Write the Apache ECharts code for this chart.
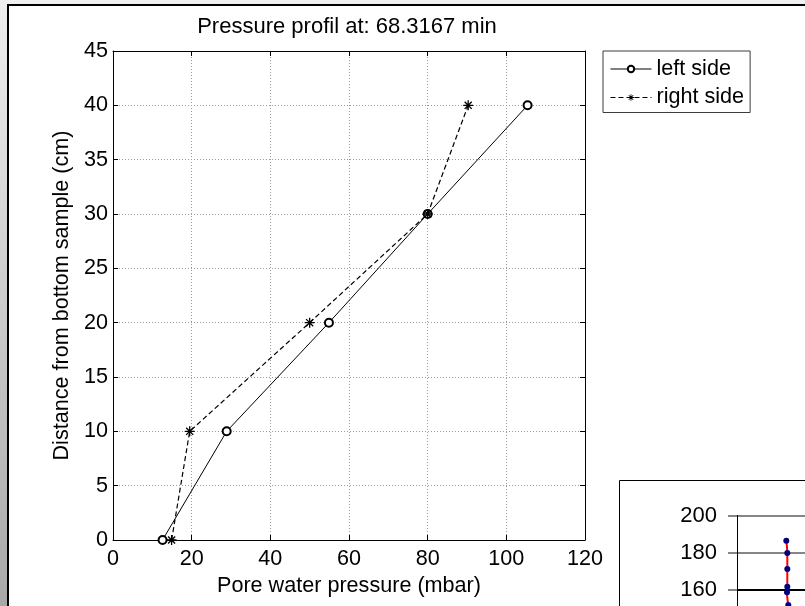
<!DOCTYPE html>
<html><head><meta charset="utf-8">
<script src="https://cdn.jsdelivr.net/npm/echarts@6/dist/echarts.min.js"></script>
<style>html,body{margin:0;padding:0;background:#fff}#c{width:805px;height:606px}</style>
</head><body><div id="c"></div>
<script>
const titleText = 'Pressure profil at: 68.3167 min';
const xName = 'Pore water pressure (mbar)';
const yName = 'Distance from bottom sample (cm)';
const seriesNames = ['left side', 'right side'];
const distance = [0, 10, 20, 30, 40];
const leftPressure = [12.6, 28.9, 54.9, 80, 105.4];
const rightPressure = [14.9, 19.5, 50, 80, 90.3];
const xRange = [0, 120, 20];
const yRange = [0, 45, 5];
// partially visible inset chart (bottom right)
const insetX = [49.3, 50.3, 50.3, 50.3, 50, 51.3];
const insetY = [186.4, 179.7, 171.1, 161.5, 158.5, 151.6];
const insetRange = [100, 200, 20];

const FF = "'Liberation Sans', Arial, sans-serif";
const FS = 21.6;
const starPath = 'path://M-0.65,-5L0.65,-5L0.65,5L-0.65,5Z M-5,-0.65L5,-0.65L5,0.65L-5,0.65Z M-3.05,-4L4,3.05L3.05,4L-4,-3.05Z M4,-3.05L-3.05,4L-4,3.05L3.05,-4Z';

const chart = echarts.init(document.getElementById('c'), null, {renderer: 'canvas'});
const tickStyle = {show: true, inside: true, length: 5, lineStyle: {color: '#000', width: 1}};
const lineBlack = {show: true, onZero: false, lineStyle: {color: '#000', width: 1}};
const gridDots = {show: true, lineStyle: {type: [1, 2], color: '#9a9a9a', width: 1}};

chart.setOption({
  animation: false,
  backgroundColor: '#fff',
  title: {
    text: titleText, left: 347, top: 16, padding: 0, textAlign: 'center',
    textStyle: {fontFamily: FF, fontSize: 22, fontWeight: 'normal', color: '#000'}
  },
  legend: {
    orient: 'vertical', left: 603, top: 51,
    padding: [7, 6, 4, 7], itemGap: 6.5, itemWidth: 41, itemHeight: 8,
    borderColor: '#3c3c3c', borderWidth: 1, backgroundColor: '#fff',
    lineStyle: {width: 1},
    textStyle: {fontFamily: FF, fontSize: FS, color: '#000'},
    data: seriesNames
  },
  grid: [
    {left: 113, top: 51, width: 472, height: 489, outerBoundsMode: 'none', containLabel: false},
    {left: 737, top: 515.5, width: 100, height: 185, outerBoundsMode: 'none', containLabel: false}
  ],
  xAxis: [
    {gridIndex: 0, type: 'value', min: xRange[0], max: xRange[1], interval: xRange[2], position: 'bottom',
     axisLine: lineBlack, axisTick: tickStyle,
     axisLabel: {margin: 8, fontSize: FS, color: '#000', fontFamily: FF},
     splitLine: gridDots,
     name: xName, nameLocation: 'middle', nameGap: 34,
     nameTextStyle: {fontSize: FS, color: '#000', fontFamily: FF}},
    {gridIndex: 0, type: 'value', min: xRange[0], max: xRange[1], interval: xRange[2], position: 'top',
     axisLine: lineBlack, axisTick: tickStyle, axisLabel: {show: false}, splitLine: {show: false}},
    {gridIndex: 1, type: 'value', min: 0, max: 100, show: false}
  ],
  yAxis: [
    {gridIndex: 0, type: 'value', min: yRange[0], max: yRange[1], interval: yRange[2], position: 'left',
     axisLine: lineBlack, axisTick: tickStyle,
     axisLabel: {margin: 5, fontSize: FS, color: '#000', fontFamily: FF},
     splitLine: gridDots,
     name: yName, nameLocation: 'middle', nameGap: 39, nameRotate: 90,
     nameTextStyle: {fontSize: FS, color: '#000', fontFamily: FF}},
    {gridIndex: 0, type: 'value', min: yRange[0], max: yRange[1], interval: yRange[2], position: 'right',
     axisLine: lineBlack, axisTick: tickStyle, axisLabel: {show: false}, splitLine: {show: false}},
    {gridIndex: 1, type: 'value', min: insetRange[0], max: insetRange[1], interval: insetRange[2], position: 'left',
     axisLine: {show: true, onZero: false, lineStyle: {color: '#000', width: 1}},
     axisTick: {show: true, inside: false, length: 9, lineStyle: {color: '#868686', width: 2}},
     axisLabel: {margin: 20, fontSize: 22, color: '#000', fontFamily: FF},
     splitLine: {show: true, lineStyle: {color: ['#868686', '#868686', '#868686', '#000', '#868686', '#868686'], width: 2}}}
  ],
  series: [
    {name: seriesNames[0], type: 'line', xAxisIndex: 0, yAxisIndex: 0,
     data: distance.map((d, i) => [leftPressure[i], d]),
     symbol: 'emptyCircle', symbolSize: 8,
     lineStyle: {color: '#000', width: 1},
     itemStyle: {color: '#000', borderWidth: 1}, z: 3},
    {name: seriesNames[1], type: 'line', xAxisIndex: 0, yAxisIndex: 0,
     data: distance.map((d, i) => [rightPressure[i], d]),
     symbol: starPath, symbolSize: 10,
     lineStyle: {color: '#000', width: 1.2, type: [5, 3]},
     itemStyle: {color: '#000'}, z: 4},
    {name: 'inset', type: 'line', xAxisIndex: 2, yAxisIndex: 2,
     data: insetX.map((x, i) => [x, insetY[i]]),
     smooth: 0.4, symbol: 'circle', symbolSize: 6,
     lineStyle: {color: '#ff0000', width: 2},
     itemStyle: {color: '#000080'}, z: 3}
  ],
  graphic: [
    {type: 'rect', shape: {x: 0, y: 0, width: 805, height: 4}, style: {fill: '#f0f0f0'}, z: -10},
    {type: 'rect', shape: {x: 0, y: 0, width: 7, height: 606},
     style: {fill: new echarts.graphic.LinearGradient(0, 0, 0, 1, [{offset: 0, color: '#efefef'}, {offset: 1, color: '#a8a8a8'}])}, z: -10},
    {type: 'rect', shape: {x: 7, y: 4, width: 2, height: 602}, style: {fill: '#000'}, z: 10},
    {type: 'rect', shape: {x: 7, y: 4, width: 798, height: 2}, style: {fill: '#000'}, z: 10},
    {type: 'rect', shape: {x: 619.5, y: 480.5, width: 300, height: 300}, style: {fill: 'none', stroke: '#000', lineWidth: 1}, z: -5}
  ]
});
</script></body></html>
